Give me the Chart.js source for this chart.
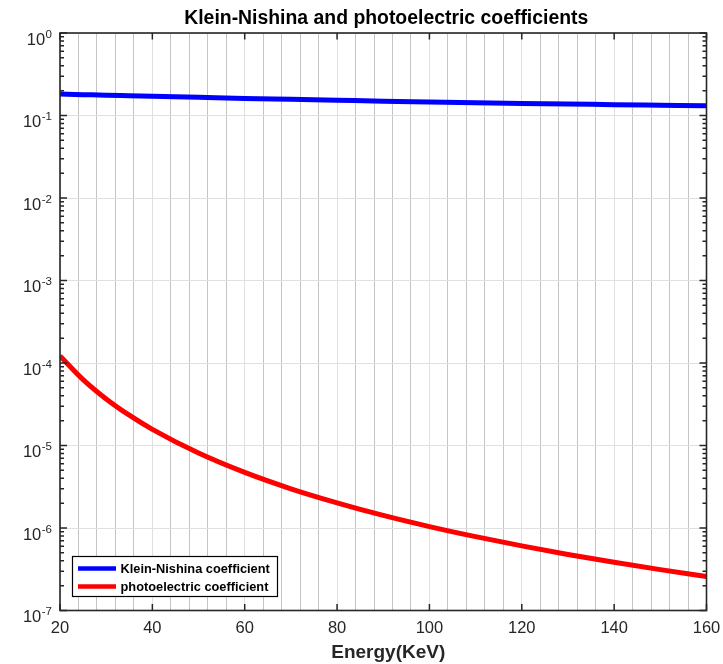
<!DOCTYPE html>
<html>
<head>
<meta charset="utf-8">
<script src="https://cdn.jsdelivr.net/npm/chart.js@4"></script>
<style>
  html, body { margin: 0; padding: 0; background: #ffffff; }
  canvas { display: block; }
</style>
</head>
<body>
<canvas id="chart" width="723" height="664" style="width:723px;height:664px"></canvas>
<script>
// Photon energies (keV) at which both coefficients are sampled
const energies = [20, 25, 30, 35, 40, 50, 60, 70, 80, 90, 100, 110, 120, 130, 140, 150, 160];

// Klein-Nishina (Compton) coefficient
const kleinNishina = [0.182, 0.179, 0.176, 0.1735, 0.171, 0.166, 0.161, 0.157, 0.153, 0.149, 0.146, 0.143, 0.140, 0.138, 0.135, 0.133, 0.131];

// Photoelectric coefficient
const photoelectric = [1.22e-4, 6.3e-5, 3.67e-5, 2.33e-5, 1.57e-5, 8.1e-6, 4.72e-6, 2.99e-6, 2.02e-6, 1.42e-6, 1.04e-6, 7.85e-7, 6.07e-7, 4.78e-7, 3.84e-7, 3.13e-7, 2.59e-7];

// Axis ranges and tick labels
const xMin = 20, xMax = 160, xMinorStep = 4, xMajorStep = 20;
const xTickLabels = [20, 40, 60, 80, 100, 120, 140, 160];
const yDecades = [-7, -6, -5, -4, -3, -2, -1, 0];

const seriesNames = ['Klein-Nishina coefficient', 'photoelectric coefficient'];
const titleText = 'Klein-Nishina and photoelectric coefficients';
const xTitleText = 'Energy(KeV)';

const FONT = '"Liberation Sans", Arial, Helvetica, sans-serif';
const AXIS_COLOR = '#262626';

const toPoints = (xs, ys) => xs.map((x, i) => ({ x: x, y: ys[i] }));

// Box, inward ticks, log tick labels, title, x label and legend
const framePlugin = {
  id: 'frame',
  afterDraw(chart) {
    const ctx = chart.ctx;
    const a = chart.chartArea;
    const xs = chart.scales.x;
    const ys = chart.scales.y;
    ctx.save();

    // inward tick marks
    ctx.strokeStyle = AXIS_COLOR;
    ctx.lineWidth = 1.5;
    ctx.beginPath();
    xTickLabels.forEach(v => {
      const px = xs.getPixelForValue(v);
      ctx.moveTo(px, a.bottom); ctx.lineTo(px, a.bottom - 6.5);
      ctx.moveTo(px, a.top); ctx.lineTo(px, a.top + 6.5);
    });
    yDecades.forEach(k => {
      const py = ys.getPixelForValue(Math.pow(10, k));
      ctx.moveTo(a.left, py); ctx.lineTo(a.left + 7, py);
      ctx.moveTo(a.right, py); ctx.lineTo(a.right - 7, py);
      if (k < 0) {
        for (let m = 2; m <= 9; m++) {
          const pm = ys.getPixelForValue(m * Math.pow(10, k));
          ctx.moveTo(a.left, pm); ctx.lineTo(a.left + 4, pm);
          ctx.moveTo(a.right, pm); ctx.lineTo(a.right - 4, pm);
        }
      }
    });
    ctx.stroke();

    // axes box
    ctx.lineWidth = 1.6;
    ctx.strokeRect(a.left, a.top, a.right - a.left, a.bottom - a.top);

    // y tick labels as 10 with a raised exponent
    ctx.fillStyle = AXIS_COLOR;
    ctx.textBaseline = 'alphabetic';
    yDecades.forEach(k => {
      const py = ys.getPixelForValue(Math.pow(10, k));
      const exp = String(k);
      ctx.font = '11.5px ' + FONT;
      const ew = ctx.measureText(exp).width;
      const right = a.left - 8;
      ctx.textAlign = 'right';
      ctx.fillText(exp, right, py + 4.5);
      ctx.font = '16.5px ' + FONT;
      ctx.fillText('10', right - ew - 0.5, py + 11.8);
    });

    // title
    ctx.fillStyle = '#000000';
    ctx.textAlign = 'center';
    ctx.font = 'bold 19.4px ' + FONT;
    ctx.fillText(titleText, (a.left + a.right) / 2 + 3, 24);

    // x axis title
    ctx.fillStyle = AXIS_COLOR;
    ctx.font = 'bold 19px ' + FONT;
    ctx.fillText(xTitleText, (a.left + a.right) / 2 + 5, 658);

    // legend box
    const lx = a.left + 12.5, lw = 205, lh = 40;
    const ly = a.bottom - 14 - lh;
    ctx.fillStyle = '#ffffff';
    ctx.fillRect(lx, ly, lw, lh);
    ctx.strokeStyle = '#000000';
    ctx.lineWidth = 1.2;
    ctx.strokeRect(lx, ly, lw, lh);
    chart.data.datasets.forEach((ds, i) => {
      const cy = ly + 12 + i * 18;
      ctx.strokeStyle = ds.borderColor;
      ctx.lineWidth = 4.5;
      ctx.beginPath();
      ctx.moveTo(lx + 5.5, cy); ctx.lineTo(lx + 43.5, cy);
      ctx.stroke();
      ctx.fillStyle = '#000000';
      ctx.font = 'bold 12.8px ' + FONT;
      ctx.textAlign = 'left';
      ctx.textBaseline = 'middle';
      ctx.fillText(ds.label, lx + 48, cy + 0.5);
    });
    ctx.restore();
  }
};

new Chart(document.getElementById('chart'), {
  type: 'line',
  data: {
    datasets: [
      {
        label: seriesNames[0],
        data: toPoints(energies, kleinNishina),
        borderColor: '#0000ff',
        borderWidth: 5,
        pointRadius: 0,
        fill: false,
        cubicInterpolationMode: 'monotone'
      },
      {
        label: seriesNames[1],
        data: toPoints(energies, photoelectric),
        borderColor: '#ff0000',
        borderWidth: 5,
        pointRadius: 0,
        fill: false,
        cubicInterpolationMode: 'monotone'
      }
    ]
  },
  options: {
    responsive: false,
    devicePixelRatio: 1,
    animation: false,
    events: [],
    layout: { padding: { top: 33, right: 16.5, bottom: 0, left: 0 } },
    plugins: {
      legend: { display: false },
      title: { display: false },
      tooltip: { enabled: false }
    },
    scales: {
      x: {
        type: 'linear',
        min: xMin,
        max: xMax,
        afterFit: s => { s.height = 53.5; s.paddingLeft = 0; s.paddingRight = 0; },
        border: { display: false },
        grid: {
          drawTicks: false,
          lineWidth: 1,
          color: c => (c.tick && c.tick.value % xMajorStep === 0) ? '#e0e0e0' : '#c4c4c4'
        },
        ticks: {
          stepSize: xMinorStep,
          autoSkip: false,
          maxRotation: 0,
          padding: 8,
          color: AXIS_COLOR,
          font: { family: FONT, size: 16.5 },
          callback: v => xTickLabels.includes(v) ? String(v) : ''
        }
      },
      y: {
        type: 'logarithmic',
        min: 1e-7,
        max: 1,
        afterFit: s => { s.width = 60; s.paddingTop = 0; s.paddingBottom = 0; },
        afterBuildTicks: s => { s.ticks = yDecades.map(k => ({ value: Math.pow(10, k) })); },
        border: { display: false },
        grid: { drawTicks: false, lineWidth: 1, color: '#e0e0e0' },
        ticks: { display: false }
      }
    }
  },
  plugins: [framePlugin]
});
</script>
</body>
</html>
